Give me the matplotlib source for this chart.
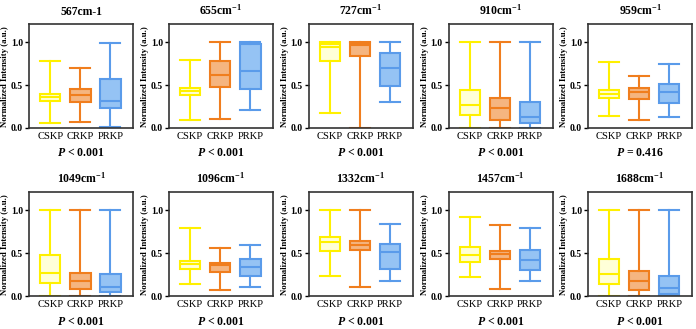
import matplotlib
matplotlib.use("Agg")
import matplotlib.pyplot as plt

plt.rcParams['font.family'] = 'Liberation Serif'
plt.rcParams['mathtext.fontset'] = 'custom'
plt.rcParams['mathtext.rm'] = 'Liberation Serif:bold'
plt.rcParams['mathtext.it'] = 'Liberation Serif:italic:bold'
plt.rcParams['mathtext.bf'] = 'Liberation Serif:bold'

# groups and panel labels
groups = ['CSKP', 'CRKP', 'PRKP']
titles = ['567cm-1', '655cm$^{-1}$', '727cm$^{-1}$', '910cm$^{-1}$', '959cm$^{-1}$',
          '1049cm$^{-1}$', '1096cm$^{-1}$', '1332cm$^{-1}$', '1457cm$^{-1}$', '1688cm$^{-1}$']
pvalues = ['< 0.001', '< 0.001', '< 0.001', '< 0.001', '= 0.416',
           '< 0.001', '< 0.001', '< 0.001', '< 0.001', '< 0.001']

# box stats per panel: (whislo, q1, med, q3, whishi) for CSKP, CRKP, PRKP
cskp = [(0.055, 0.31, 0.36, 0.40, 0.78), (0.09, 0.38, 0.43, 0.465, 0.79),
        (0.175, 0.785, 0.95, 0.985, 1.0), (0.0, 0.15, 0.27, 0.44, 1.0),
        (0.14, 0.35, 0.40, 0.44, 0.77), (0.0, 0.15, 0.27, 0.48, 1.0),
        (0.14, 0.32, 0.37, 0.41, 0.79), (0.23, 0.53, 0.63, 0.69, 1.0),
        (0.22, 0.40, 0.48, 0.57, 0.92), (0.0, 0.14, 0.26, 0.43, 1.0)]
crkp = [(0.075, 0.30, 0.38, 0.45, 0.70), (0.11, 0.48, 0.62, 0.78, 1.0),
        (0.0, 0.84, 0.97, 0.995, 1.0), (0.0, 0.09, 0.23, 0.35, 1.0),
        (0.09, 0.34, 0.42, 0.47, 0.61), (0.0, 0.08, 0.18, 0.27, 1.0),
        (0.07, 0.28, 0.36, 0.39, 0.56), (0.11, 0.54, 0.60, 0.64, 1.0),
        (0.08, 0.43, 0.49, 0.53, 0.83), (0.0, 0.07, 0.18, 0.29, 1.0)]
prkp = [(0.015, 0.235, 0.32, 0.57, 0.99), (0.205, 0.46, 0.67, 0.98, 1.0),
        (0.30, 0.49, 0.705, 0.87, 1.0), (0.0, 0.06, 0.13, 0.30, 1.0),
        (0.13, 0.29, 0.42, 0.51, 0.75), (0.0, 0.05, 0.11, 0.26, 1.0),
        (0.11, 0.23, 0.34, 0.43, 0.60), (0.18, 0.32, 0.52, 0.61, 0.84),
        (0.18, 0.30, 0.42, 0.54, 0.80), (0.0, 0.03, 0.09, 0.24, 1.0)]

edge_colors = ['#FFF000', '#F07E1E', '#5A9BEA']
face_colors = ['#FFFFD8', '#F5B580', '#95C3F4']

fig = plt.figure(figsize=(6.96, 3.29), dpi=100)
lefts = [0.042, 0.243, 0.444, 0.645, 0.845]
bottoms = [0.611, 0.100]

for i in range(10):
    row, col = divmod(i, 5)
    ax = fig.add_axes([lefts[col], bottoms[row], 0.149, 0.315])
    series = [cskp[i], crkp[i], prkp[i]]
    stats = []
    for name, s in zip(groups, series):
        stats.append({'label': name, 'whislo': s[0], 'q1': s[1], 'med': s[2],
                      'q3': s[3], 'whishi': s[4], 'fliers': []})
    bp = ax.bxp(stats, positions=[1, 2, 3], widths=0.68, capwidths=0.66,
                patch_artist=True, showfliers=False)
    for j in range(3):
        bp['boxes'][j].set(facecolor=face_colors[j], edgecolor=edge_colors[j], linewidth=1.5)
        bp['medians'][j].set(color=edge_colors[j], linewidth=1.5)
        for k in (2 * j, 2 * j + 1):
            bp['whiskers'][k].set(color=edge_colors[j], linewidth=1.5)
            bp['caps'][k].set(color=edge_colors[j], linewidth=1.5)

    ax.set_xlim(0.3, 3.75)
    ax.set_ylim(0, 1.21)
    ax.set_yticks([0, 0.5, 1.0])
    ax.set_yticklabels(['0.0', '0.5', '1.0'], fontsize=7, fontweight='bold')
    ax.set_xticklabels(groups, fontsize=7.6)
    ax.tick_params(axis='x', length=0, pad=3)
    ax.tick_params(axis='y', length=3, width=1, pad=1.5)
    for sp in ax.spines.values():
        sp.set_linewidth(1.2)
        sp.set_color('#333333')
    ax.set_ylabel('Normalized Intensity (a.u.)', fontsize=6.3, fontweight='bold', labelpad=1)
    ax.set_title(titles[i], fontsize=8.5, fontweight='bold', pad=7)
    ax.text(0.5, -0.24 if row == 0 else -0.25, '$P$ ' + pvalues[i], transform=ax.transAxes,
            ha='center', va='center', fontsize=8.5, fontweight='bold')

fig.savefig('out.png', dpi=100)
